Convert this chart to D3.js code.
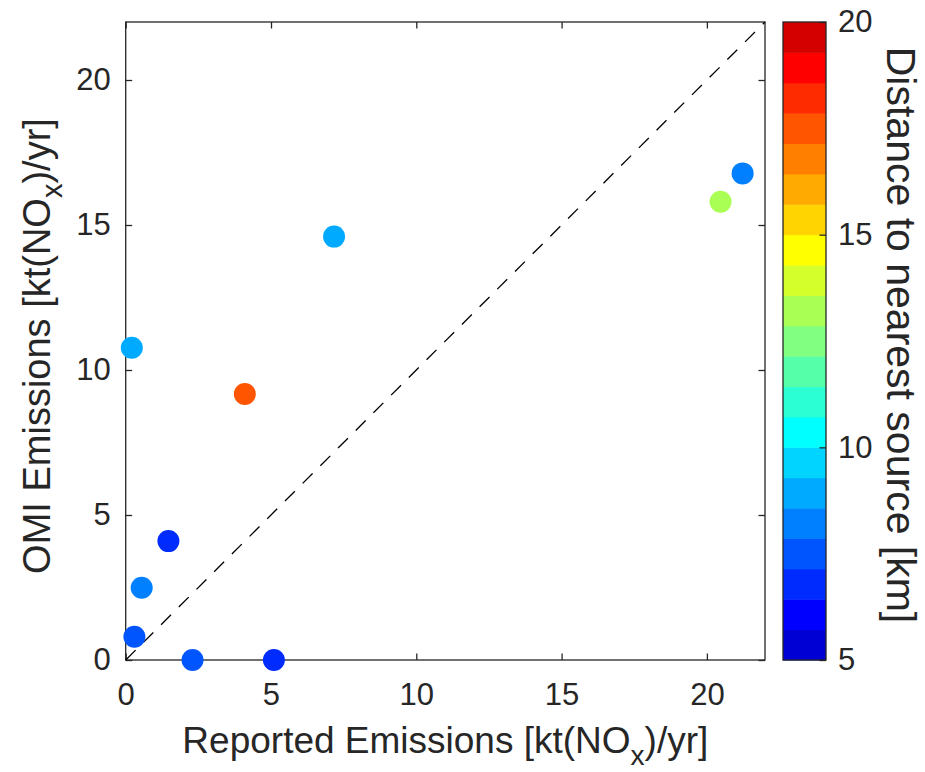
<!DOCTYPE html>
<html>
<head>
<meta charset="utf-8">
<script src="https://cdn.jsdelivr.net/npm/d3@7"></script>
<style>
  body { margin: 0; background: #fff; }
  text { font-family: "Liberation Sans", Arial, sans-serif; fill: #262626; }
</style>
</head>
<body>
<div id="chart"></div>
<script>
// Datos
const reportado = [0.21, 0.30, 0.55, 1.47, 2.30, 5.10, 4.10, 7.17, 20.47, 21.23];
const omi = [10.77, 0.80, 2.49, 4.10, 0.00, 0.00, 9.17, 14.60, 15.80, 16.78];
const distancia = [8.9, 7.5, 8.2, 6.8, 7.5, 6.8, 17.5, 8.9, 13.2, 8.2];

const ticksEjes = [0, 5, 10, 15, 20];
const ticksColorbar = [5, 10, 15, 20];

// Mapa de colores (21 niveles, de abajo a arriba)
const mapaColores = [
    "#0000d4", "#0000ff", "#002bff", "#0055ff", "#0080ff", "#00aaff", "#00d4ff",
    "#00ffff", "#2bffd4", "#55ffaa", "#80ff80", "#aaff55", "#d4ff2b", "#ffff00",
    "#ffd400", "#ffaa00", "#ff8000", "#ff5500", "#ff2b00", "#ff0000", "#d40000"
];

const W = 925, H = 772;
const plot = { left: 125.7, right: 765, top: 22, bottom: 660 };
const cbar = { left: 783, right: 826 };
const gris = "#262626";

const svg = d3.select("#chart")
    .append("svg")
    .attr("width", W)
    .attr("height", H);

// Escalas
const x = d3.scaleLinear().domain([0, 22]).range([plot.left, plot.right]);
const y = d3.scaleLinear().domain([0, 22]).range([plot.bottom, plot.top]);
const c = d3.scaleLinear().domain([5, 20]).range([plot.bottom, plot.top]);
const color = d3.scaleQuantize().domain([5, 20]).range(mapaColores);

// Caja de ejes
svg.append("rect")
    .attr("x", plot.left)
    .attr("y", plot.top)
    .attr("width", plot.right - plot.left)
    .attr("height", plot.bottom - plot.top)
    .attr("fill", "none")
    .attr("stroke", gris)
    .attr("stroke-width", 1.3);

// Ticks hacia dentro en los cuatro lados
const tickLen = 6.5;
svg.append("g")
    .attr("transform", `translate(0, ${plot.bottom})`)
    .call(d3.axisBottom(x).tickValues(ticksEjes).tickSize(-tickLen).tickPadding(23).tickFormat(d3.format("d")))
    .call(g => g.select(".domain").remove());
svg.append("g")
    .attr("transform", `translate(0, ${plot.top})`)
    .call(d3.axisTop(x).tickValues(ticksEjes).tickSize(-tickLen).tickFormat(""))
    .call(g => g.select(".domain").remove());
svg.append("g")
    .attr("transform", `translate(${plot.left}, 0)`)
    .call(d3.axisLeft(y).tickValues(ticksEjes).tickSize(-tickLen).tickPadding(15).tickFormat(d3.format("d")))
    .call(g => g.select(".domain").remove());
svg.append("g")
    .attr("transform", `translate(${plot.right}, 0)`)
    .call(d3.axisRight(y).tickValues(ticksEjes).tickSize(-tickLen).tickFormat(""))
    .call(g => g.select(".domain").remove());

svg.selectAll(".tick line").attr("stroke", gris).attr("stroke-width", 1.3);
svg.selectAll(".tick text")
    .attr("fill", gris)
    .style("font-size", "31px")
    .style("font-family", "'Liberation Sans', Arial, sans-serif");

// Linea 1:1
svg.append("line")
    .attr("x1", x(0)).attr("y1", y(0))
    .attr("x2", x(22)).attr("y2", y(22))
    .attr("stroke", "#000")
    .attr("stroke-width", 1.3)
    .attr("stroke-dasharray", "14,11");

// Puntos
svg.selectAll("circle.punto")
    .data(reportado.map((d, i) => ({ rep: d, omi: omi[i], dist: distancia[i] })))
    .enter()
    .append("circle")
    .attr("class", "punto")
    .attr("cx", d => x(d.rep))
    .attr("cy", d => y(d.omi))
    .attr("r", 11)
    .attr("fill", d => color(d.dist));

// Etiquetas de ejes
const xl = svg.append("text")
    .attr("x", (plot.left + plot.right) / 2)
    .attr("y", 753)
    .attr("text-anchor", "middle")
    .style("font-size", "37px");
xl.append("tspan").text("Reported Emissions [kt(NO");
xl.append("tspan").attr("dy", 12).style("font-size", "28px").text("x");
xl.append("tspan").attr("dy", -12).text(")/yr]");

const yl = svg.append("text")
    .attr("transform", `translate(50, 346) rotate(-90)`)
    .attr("text-anchor", "middle")
    .style("font-size", "38px");
yl.append("tspan").text("OMI Emissions [kt(NO");
yl.append("tspan").attr("dy", 12).style("font-size", "29px").text("x");
yl.append("tspan").attr("dy", -12).text(")/yr]");

// Barra de color
const paso = 15 / mapaColores.length;
svg.append("g")
    .selectAll("rect")
    .data(mapaColores)
    .enter()
    .append("rect")
    .attr("x", cbar.left)
    .attr("y", (d, i) => c(5 + (i + 1) * paso))
    .attr("width", cbar.right - cbar.left)
    .attr("height", (d, i) => c(5 + i * paso) - c(5 + (i + 1) * paso) + 0.5)
    .attr("fill", d => d);

svg.append("rect")
    .attr("x", cbar.left)
    .attr("y", plot.top)
    .attr("width", cbar.right - cbar.left)
    .attr("height", plot.bottom - plot.top)
    .attr("fill", "none")
    .attr("stroke", gris)
    .attr("stroke-width", 1.3);

const cb = svg.append("g")
    .attr("transform", `translate(${cbar.right}, 0)`)
    .call(d3.axisRight(c).tickValues(ticksColorbar).tickSize(-tickLen).tickPadding(12).tickFormat(d3.format("d")))
    .call(g => g.select(".domain").remove());
cb.selectAll(".tick line").attr("stroke", gris).attr("stroke-width", 1.3);
cb.selectAll(".tick text")
    .attr("fill", gris)
    .style("font-size", "31px")
    .style("font-family", "'Liberation Sans', Arial, sans-serif");

svg.append("text")
    .attr("transform", `translate(887, 335) rotate(90)`)
    .attr("text-anchor", "middle")
    .style("font-size", "41px")
    .text("Distance to nearest source [km]");
</script>
</body>
</html>
